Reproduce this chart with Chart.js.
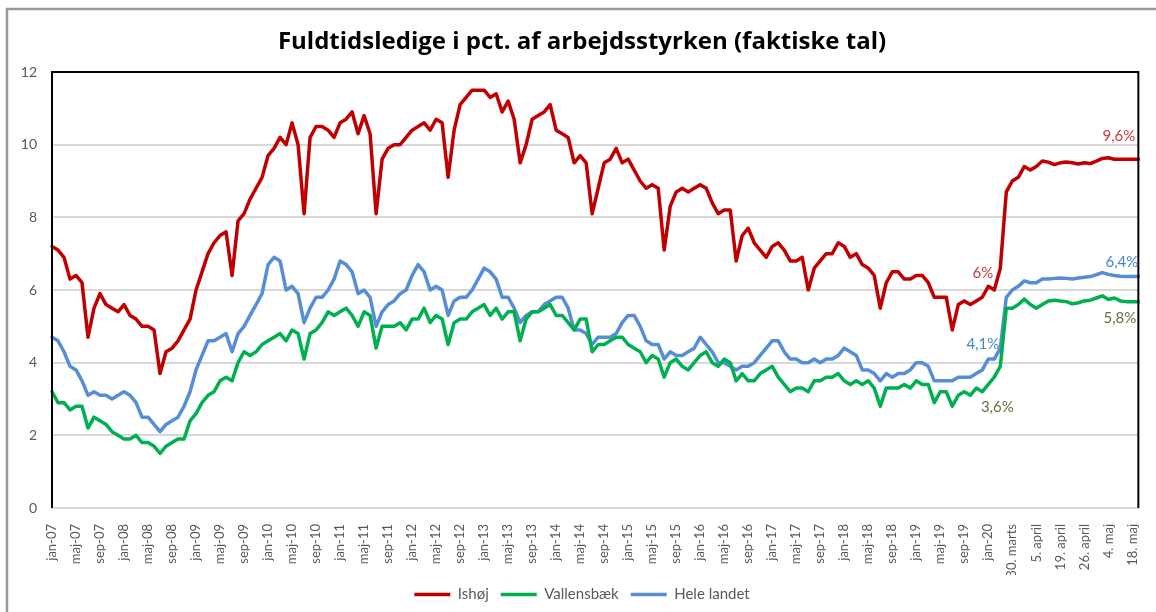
<!DOCTYPE html>
<html>
<head>
<meta charset="utf-8">
<script src="https://cdn.jsdelivr.net/npm/chart.js@4"></script>
<style>
  html, body { margin: 0; padding: 0; background: #fff; }
  #wrap { width: 1156px; height: 612px; position: relative; }
</style>
</head>
<body>
<div id="wrap"><canvas id="myChart" width="1156" height="612"></canvas></div>
<script>
const monthNames = ['jan','feb','mar','apr','maj','jun','jul','aug','sep','okt','nov','dec'];
const firstYear = 2007;
const monthCount = 159; // jan-07 .. mar-20
const weekLabels = ['', '30. marts', '', '', '', '5. april', '', '', '', '19. april', '', '', '',
  '26. april', '', '', '', '4. maj', '', '', '', '18. maj', ''];

const ishoj = [
  7.2, 7.1, 6.9, 6.3, 6.4, 6.2, 4.7, 5.5, 5.9, 5.6, 5.5, 5.4,
  5.6, 5.3, 5.2, 5.0, 5.0, 4.9, 3.7, 4.3, 4.4, 4.6, 4.9, 5.2,
  6.0, 6.5, 7.0, 7.3, 7.5, 7.6, 6.4, 7.9, 8.1, 8.5, 8.8, 9.1,
  9.7, 9.9, 10.2, 10.0, 10.6, 10.0, 8.1, 10.2, 10.5, 10.5, 10.4, 10.2,
  10.6, 10.7, 10.9, 10.3, 10.8, 10.3, 8.1, 9.6, 9.9, 10.0, 10.0, 10.2,
  10.4, 10.5, 10.6, 10.4, 10.7, 10.6, 9.1, 10.4, 11.1, 11.3, 11.5, 11.5,
  11.5, 11.3, 11.4, 10.9, 11.2, 10.7, 9.5, 10.0, 10.7, 10.8, 10.9, 11.1,
  10.4, 10.3, 10.2, 9.5, 9.7, 9.5, 8.1, 8.8, 9.5, 9.6, 9.9, 9.5,
  9.6, 9.3, 9.0, 8.8, 8.9, 8.8, 7.1, 8.3, 8.7, 8.8, 8.7, 8.8,
  8.9, 8.8, 8.4, 8.1, 8.2, 8.2, 6.8, 7.5, 7.7, 7.3, 7.1, 6.9,
  7.2, 7.3, 7.1, 6.8, 6.8, 6.9, 6.0, 6.6, 6.8, 7.0, 7.0, 7.3,
  7.2, 6.9, 7.0, 6.7, 6.6, 6.4, 5.5, 6.2, 6.5, 6.5, 6.3, 6.3,
  6.4, 6.4, 6.2, 5.8, 5.8, 5.8, 4.9, 5.6, 5.7, 5.6, 5.7, 5.8,
  6.1, 6.0, 6.6,
  8.7, 9.0, 9.1, 9.4, 9.3, 9.4, 9.55, 9.52, 9.45, 9.5, 9.52, 9.5,
  9.47, 9.5, 9.48, 9.55, 9.62, 9.64, 9.6, 9.6, 9.6, 9.6, 9.6
];
const vallensbaek = [
  3.2, 2.9, 2.9, 2.7, 2.8, 2.8, 2.2, 2.5, 2.4, 2.3, 2.1, 2.0,
  1.9, 1.9, 2.0, 1.8, 1.8, 1.7, 1.5, 1.7, 1.8, 1.9, 1.9, 2.4,
  2.6, 2.9, 3.1, 3.2, 3.5, 3.6, 3.5, 4.0, 4.3, 4.2, 4.3, 4.5,
  4.6, 4.7, 4.8, 4.6, 4.9, 4.8, 4.1, 4.8, 4.9, 5.1, 5.4, 5.3,
  5.4, 5.5, 5.3, 5.0, 5.4, 5.3, 4.4, 5.0, 5.0, 5.0, 5.1, 4.9,
  5.2, 5.2, 5.5, 5.1, 5.3, 5.2, 4.5, 5.1, 5.2, 5.2, 5.4, 5.5,
  5.6, 5.3, 5.5, 5.2, 5.4, 5.4, 4.6, 5.2, 5.4, 5.4, 5.5, 5.6,
  5.3, 5.3, 5.1, 4.9, 5.2, 5.2, 4.3, 4.5, 4.5, 4.6, 4.7, 4.7,
  4.5, 4.4, 4.3, 4.0, 4.2, 4.1, 3.6, 4.0, 4.1, 3.9, 3.8, 4.0,
  4.2, 4.3, 4.0, 3.9, 4.1, 4.0, 3.5, 3.7, 3.5, 3.5, 3.7, 3.8,
  3.9, 3.6, 3.4, 3.2, 3.3, 3.3, 3.2, 3.5, 3.5, 3.6, 3.6, 3.7,
  3.5, 3.4, 3.5, 3.4, 3.5, 3.3, 2.8, 3.3, 3.3, 3.3, 3.4, 3.3,
  3.5, 3.4, 3.4, 2.9, 3.2, 3.2, 2.8, 3.1, 3.2, 3.1, 3.3, 3.2,
  3.4, 3.6, 3.9,
  5.5, 5.5, 5.6, 5.75, 5.6, 5.5, 5.6, 5.7, 5.72, 5.7, 5.68, 5.62,
  5.65, 5.7, 5.72, 5.78, 5.84, 5.74, 5.78, 5.7, 5.68, 5.68, 5.68
];
const heleLandet = [
  4.7, 4.6, 4.3, 3.9, 3.8, 3.5, 3.1, 3.2, 3.1, 3.1, 3.0, 3.1,
  3.2, 3.1, 2.9, 2.5, 2.5, 2.3, 2.1, 2.3, 2.4, 2.5, 2.8, 3.2,
  3.8, 4.2, 4.6, 4.6, 4.7, 4.8, 4.3, 4.8, 5.0, 5.3, 5.6, 5.9,
  6.7, 6.9, 6.8, 6.0, 6.1, 5.9, 5.1, 5.5, 5.8, 5.8, 6.0, 6.3,
  6.8, 6.7, 6.5, 5.9, 6.0, 5.8, 5.0, 5.4, 5.6, 5.7, 5.9, 6.0,
  6.4, 6.7, 6.5, 6.0, 6.1, 6.0, 5.3, 5.7, 5.8, 5.8, 6.0, 6.3,
  6.6, 6.5, 6.3, 5.8, 5.8, 5.5, 5.1, 5.3, 5.4, 5.4, 5.6, 5.7,
  5.8, 5.8, 5.5, 4.9, 4.9, 4.8, 4.5, 4.7, 4.7, 4.7, 4.8, 5.1,
  5.3, 5.3, 5.0, 4.6, 4.5, 4.5, 4.1, 4.3, 4.2, 4.2, 4.3, 4.4,
  4.7, 4.5, 4.3, 4.0, 4.0, 3.9, 3.8, 3.9, 3.9, 4.0, 4.2, 4.4,
  4.6, 4.6, 4.3, 4.1, 4.1, 4.0, 4.0, 4.1, 4.0, 4.1, 4.1, 4.2,
  4.4, 4.3, 4.2, 3.8, 3.8, 3.7, 3.5, 3.7, 3.6, 3.7, 3.7, 3.8,
  4.0, 4.0, 3.9, 3.5, 3.5, 3.5, 3.5, 3.6, 3.6, 3.6, 3.7, 3.8,
  4.1, 4.1, 4.4,
  5.8, 6.0, 6.1, 6.25, 6.2, 6.2, 6.3, 6.3, 6.32, 6.33, 6.32, 6.3,
  6.33, 6.35, 6.37, 6.42, 6.48, 6.43, 6.4, 6.38, 6.37, 6.37, 6.37
];

const labels = [];
for (let i = 0; i < monthCount; i++) {
  const yy = String((firstYear + Math.floor(i / 12)) % 100).padStart(2, '0');
  labels.push(monthNames[i % 12] + '-' + yy);
}
weekLabels.forEach(l => labels.push(l));

// value labels: dataset, index, text, colour, offsets
const lastIdx = labels.length - 1;
const valueLabels = [
  { ds: 0, idx: lastIdx, text: '9,6%', color: '#cc3b3b', dx: -3, dy: -23, align: 'right' },
  { ds: 2, idx: lastIdx, text: '6,4%', color: '#4285cc', dx: 0, dy: -14, align: 'right' },
  { ds: 1, idx: lastIdx, text: '5,8%', color: '#6b6b47', dx: -2, dy: 17, align: 'right' },
  { ds: 0, idx: 157, text: '6%', color: '#cc3b3b', dx: -1, dy: -17, align: 'right' },
  { ds: 2, idx: 157, text: '4,1%', color: '#4285cc', dx: 5, dy: -15, align: 'right' },
  { ds: 1, idx: 157, text: '3,6%', color: '#6b6b47', dx: 3, dy: 30, align: 'center' }
];

const framePlugin = {
  id: 'frame',
  beforeDraw(chart) {
    const c = chart.ctx;
    c.save();
    c.fillStyle = '#fff';
    c.fillRect(0, 0, chart.width, chart.height);
    c.strokeStyle = '#999';
    c.lineWidth = 2.5;
    c.beginPath();
    c.moveTo(7, chart.height);
    c.lineTo(7, 9);
    c.lineTo(chart.width, 9);
    c.stroke();
    c.restore();
  },
  afterDatasetsDraw(chart) {
    const a = chart.chartArea;
    const c = chart.ctx;
    c.save();
    c.strokeStyle = '#000';
    c.lineWidth = 2;
    c.beginPath();
    c.moveTo(a.left, a.bottom);
    c.lineTo(a.left, a.top);
    c.lineTo(a.right, a.top);
    c.lineTo(a.right, a.bottom);
    c.stroke();

    c.font = '15px Lato';
    c.textBaseline = 'middle';
    valueLabels.forEach(v => {
      const pt = chart.getDatasetMeta(v.ds).data[v.idx];
      c.fillStyle = v.color;
      c.textAlign = v.align;
      c.fillText(v.text, pt.x + v.dx, pt.y + v.dy);
    });
    c.restore();
  }
};

const ctx = document.getElementById('myChart');
const myChart = new Chart(ctx, {
  type: 'line',
  data: {
    labels: labels,
    datasets: [
      { label: 'Ishøj', data: ishoj, borderColor: '#C00000', backgroundColor: '#C00000', borderWidth: 3.5 },
      { label: 'Vallensbæk', data: vallensbaek, borderColor: '#00B050', backgroundColor: '#00B050', borderWidth: 3.5 },
      { label: 'Hele landet', data: heleLandet, borderColor: '#558ED5', backgroundColor: '#558ED5', borderWidth: 3.5 }
    ]
  },
  options: {
    responsive: false,
    animation: false,
    layout: { padding: { left: 18, right: 10, top: 0, bottom: 0 } },
    elements: {
      point: { radius: 0, hoverRadius: 0 },
      line: { tension: 0, borderJoinStyle: 'round', borderCapStyle: 'round' }
    },
    scales: {
      x: {
        offset: false,
        grid: { display: false },
        border: { color: '#d9d9d9', width: 2 },
        ticks: {
          autoSkip: false,
          minRotation: 90,
          maxRotation: 90,
          padding: 8,
          color: '#595959',
          font: { family: 'Lato', size: 13 },
          callback: function (val, idx) {
            return idx % 4 === 0 ? this.getLabelForValue(val) : null;
          }
        },
        afterFit: s => { s.height = 67; }
      },
      y: {
        min: 0,
        max: 12,
        grid: { color: '#d9d9d9', lineWidth: 2, drawTicks: false },
        border: { display: false },
        ticks: {
          stepSize: 2,
          padding: 15,
          color: '#595959',
          font: { family: 'Lato', size: 14 }
        },
        afterFit: s => { s.width = 34; }
      }
    },
    plugins: {
      title: {
        display: true,
        text: 'Fuldtidsledige i pct. af arbejdsstyrken (faktiske tal)',
        color: '#000',
        font: { family: 'Open Sans', size: 24, weight: 'bold' },
        padding: { top: 28, bottom: 15.2 }
      },
      legend: {
        position: 'bottom',
        labels: {
          usePointStyle: true,
          pointStyle: 'line',
          pointStyleWidth: 36,
          padding: 12,
          color: '#595959',
          font: { family: 'Lato', size: 15 }
        }
      },
      tooltip: { enabled: false }
    }
  },
  plugins: [framePlugin]
});
</script>
</body>
</html>
